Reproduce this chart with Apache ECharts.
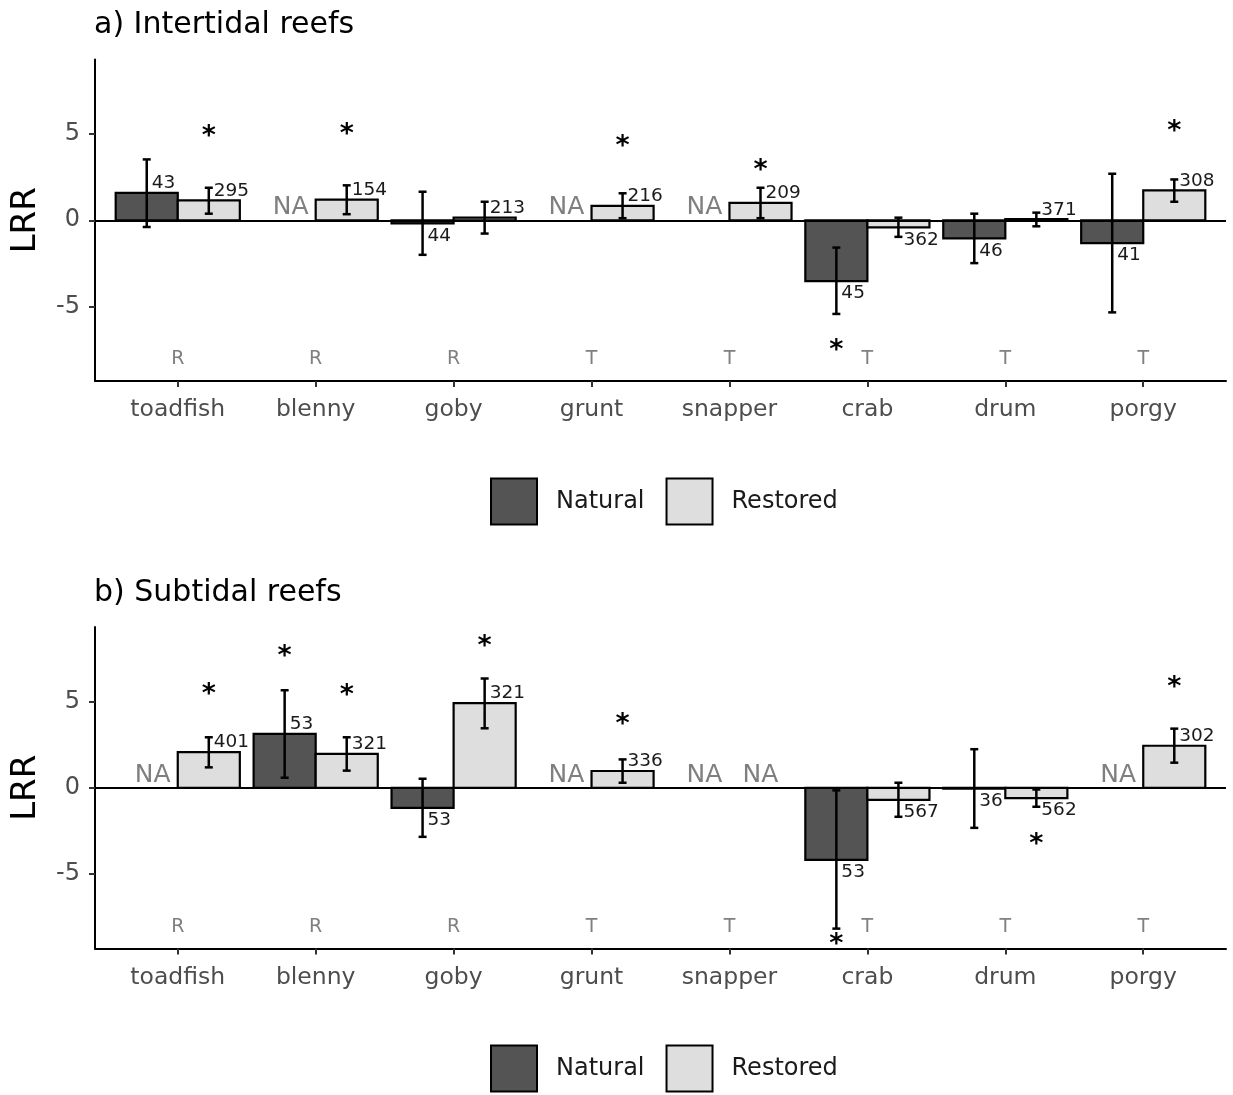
<!DOCTYPE html>
<html>
<head>
<meta charset="utf-8">
<script src="https://cdn.jsdelivr.net/npm/echarts@6/dist/echarts.min.js"></script>
<style>
html,body{margin:0;padding:0;background:#fff;}
#chart{width:1233px;height:1095px;}
</style>
</head>
<body>
<div id="chart"></div>
<script>
// ---------- data ----------
const categories = ['toadfish','blenny','goby','grunt','snapper','crab','drum','porgy'];
const habitatType = ['R','R','R','T','T','T','T','T'];
const yTicks = [-5, 0, 5];
const panelTitles = ['a) Intertidal reefs', 'b) Subtidal reefs'];
const groups = ['Natural', 'Restored'];

// a) Intertidal reefs
const intNat   = [1.58, null, -0.18, null, null, -3.52, -1.05, -1.32];
const intNatLo = [-0.39, null, -2.00, null, null, -5.42, -2.48, -5.33];
const intNatHi = [3.52, null, 1.65, null, null, -1.58, 0.38, 2.69];
const intNatN  = [43, null, 44, null, null, 45, 46, 41];
const intRes   = [1.15, 1.19, 0.15, 0.83, 1.01, -0.41, 0.06, 1.73];
const intResLo = [0.38, 0.35, -0.77, 0.12, 0.12, -0.96, -0.35, 1.07];
const intResHi = [1.88, 2.02, 1.07, 1.56, 1.88, 0.15, 0.44, 2.36];
const intResN  = [295, 154, 213, 216, 209, 362, 371, 308];
// significance stars: [category index, group (0 natural, 1 restored), LRR position]
const intStars = [[0,1,5.03],[1,1,5.15],[3,1,4.47],[4,1,3.09],[5,0,-7.34],[7,1,5.34]];

// b) Subtidal reefs
const subNat   = [null, 3.12, -1.17, null, null, -4.17, -0.05, null];
const subNatLo = [null, 0.58, -2.84, null, null, -8.15, -2.32, null];
const subNatHi = [null, 5.64, 0.52, null, null, -0.15, 2.23, null];
const subNatN  = [null, 53, 53, null, null, 53, 36, null];
const subRes   = [2.06, 1.96, 4.90, 0.97, null, -0.70, -0.60, 2.43];
const subResLo = [1.18, 0.99, 3.44, 0.29, null, -1.68, -1.10, 1.45];
const subResHi = [2.92, 2.92, 6.32, 1.64, null, 0.29, -0.10, 3.42];
const subResN  = [401, 321, 321, 336, null, 567, 562, 302];
const subStars = [[0,1,5.58],[1,0,7.82],[1,1,5.52],[2,1,8.40],[3,1,3.89],[5,0,-8.89],[6,1,-3.06],[7,1,6.01]];

// ---------- styling ----------
const FONT = 'DejaVu Sans';
const FILL = ['#545454', '#dedede'];
const HALF = 0.225;           // half bar width (category units)
const GRIDS = [{top: 59.5, height: 321.5}, {top: 627, height: 321.5}];
const LEFT = 95, RIGHT = 7;

function xPos(i, g) { return i + 1 + (g === 0 ? -HALF : HALF); }

function buildPanel(p, nat, natLo, natHi, natN, res, resLo, resHi, resN, stars) {
  const series = [];
  const vals = [nat, res], los = [natLo, resLo], his = [natHi, resHi], ns = [natN, resN];
  // bars
  for (let g = 0; g < 2; g++) {
    const data = [];
    vals[g].forEach((v, i) => { if (v !== null) data.push([xPos(i, g), v]); });
    series.push({
      type: 'custom', name: groups[g], xAxisIndex: p, yAxisIndex: p, z: 2,
      itemStyle: {color: FILL[g], borderColor: '#000', borderWidth: 2},
      encode: {x: 0, y: 1}, data: data, silent: true,
      renderItem: (params, api) => {
        const x = api.value(0), v = api.value(1);
        const a = api.coord([x - HALF, v]);
        const b = api.coord([x + HALF, 0]);
        return {
          type: 'rect',
          shape: {x: Math.min(a[0], b[0]), y: Math.min(a[1], b[1]),
                  width: Math.abs(b[0] - a[0]), height: Math.abs(b[1] - a[1])},
          style: {fill: FILL[g], stroke: '#000', lineWidth: 2.2}
        };
      }
    });
  }
  // error bars
  const eb = [];
  for (let g = 0; g < 2; g++) {
    vals[g].forEach((v, i) => { if (v !== null) eb.push([xPos(i, g), los[g][i], his[g][i]]); });
  }
  series.push({
    type: 'custom', name: 'err' + p, xAxisIndex: p, yAxisIndex: p, z: 4, silent: true,
    encode: {x: 0, y: [1, 2]}, data: eb,
    renderItem: (params, api) => {
      const x = api.value(0);
      const t = api.coord([x, api.value(2)]);
      const b = api.coord([x, api.value(1)]);
      const st = {stroke: '#000', lineWidth: 2.5};
      return {type: 'group', children: [
        {type: 'line', shape: {x1: t[0], y1: t[1], x2: b[0], y2: b[1]}, style: st},
        {type: 'line', shape: {x1: t[0] - 4, y1: t[1], x2: t[0] + 4, y2: t[1]}, style: st},
        {type: 'line', shape: {x1: b[0] - 4, y1: b[1], x2: b[0] + 4, y2: b[1]}, style: st}
      ]};
    },
    markLine: {
      silent: true, symbol: ['none', 'none'], label: {show: false},
      lineStyle: {color: '#000', width: 2, type: 'solid'},
      data: [{yAxis: 0}]
    }
  });
  // sample-size labels
  const lab = [];
  for (let g = 0; g < 2; g++) {
    vals[g].forEach((v, i) => { if (v !== null) lab.push([xPos(i, g), v, ns[g][i]]); });
  }
  series.push({
    type: 'custom', name: 'n' + p, xAxisIndex: p, yAxisIndex: p, z: 5, silent: true,
    encode: {x: 0, y: 1}, data: lab,
    renderItem: (params, api) => {
      const v = api.value(1);
      const pt = api.coord([api.value(0), v]);
      return {type: 'text', x: pt[0] + 5, y: pt[1] + (v >= 0 ? 0 : 3),
        style: {text: String(api.value(2)), fontSize: 18.5, fontFamily: FONT, fill: '#1a1a1a',
                align: 'left', verticalAlign: v >= 0 ? 'bottom' : 'top'}};
    }
  });
  // NA labels
  const na = [];
  for (let g = 0; g < 2; g++) {
    vals[g].forEach((v, i) => { if (v === null) na.push([xPos(i, g), 0, g]); });
  }
  series.push({
    type: 'custom', name: 'na' + p, xAxisIndex: p, yAxisIndex: p, z: 5, silent: true,
    encode: {x: 0, y: 1}, data: na,
    renderItem: (params, api) => {
      const pt = api.coord([api.value(0), api.value(1)]);
      return {type: 'text', x: pt[0] + (api.value(2) === 0 ? 6 : 0), y: pt[1],
        style: {text: 'NA', fontSize: 25, fontFamily: FONT, fill: '#7f7f7f',
                align: 'center', verticalAlign: 'bottom'}};
    }
  });
  // stars
  series.push({
    type: 'custom', name: 'sig' + p, xAxisIndex: p, yAxisIndex: p, z: 5, silent: true,
    encode: {x: 0, y: 1}, data: stars.map(s => [xPos(s[0], s[1]), s[2]]),
    renderItem: (params, api) => {
      const pt = api.coord([api.value(0), api.value(1)]);
      return {type: 'text', x: pt[0], y: pt[1] + 4,
        style: {text: '*', fontSize: 27, fontWeight: 'bold', fontFamily: FONT, fill: '#000',
                align: 'center', verticalAlign: 'middle'}};
    }
  });
  // habitat type letters
  series.push({
    type: 'custom', name: 'hab' + p, xAxisIndex: p, yAxisIndex: p, z: 5, silent: true,
    encode: {x: 0, y: 1}, data: habitatType.map((h, i) => [i + 1, -8]),
    renderItem: (params, api) => {
      const pt = api.coord([api.value(0), api.value(1)]);
      return {type: 'text', x: pt[0], y: pt[1] + 1,
        style: {text: habitatType[params.dataIndex], fontSize: 19, fontFamily: FONT, fill: '#808080',
                align: 'center', verticalAlign: 'middle'}};
    }
  });
  return series;
}

const catTicks = categories.map((c, i) => i + 1);

function xAxis(p) {
  return {
    type: 'value', gridIndex: p, min: 0.4, max: 8.6,
    splitLine: {show: false},
    axisLine: {show: true, onZero: false, lineStyle: {color: '#000', width: 2}},
    axisTick: {show: true, customValues: catTicks, length: 6, lineStyle: {color: '#333', width: 2}},
    axisLabel: {show: true, customValues: catTicks, margin: 17, fontSize: 23.5, fontFamily: FONT, color: '#4d4d4d',
      formatter: v => categories[Math.round(v) - 1] || ''}
  };
}
function yAxis(p) {
  return {
    type: 'value', gridIndex: p, min: -9.3, max: 9.3,
    splitLine: {show: false},
    axisLine: {show: true, lineStyle: {color: '#000', width: 2}},
    axisTick: {show: true, customValues: yTicks, length: 6, lineStyle: {color: '#333', width: 2}},
    axisLabel: {show: true, customValues: yTicks, margin: 15, fontSize: 24, fontFamily: FONT, color: '#4d4d4d'},
    name: 'LRR', nameLocation: 'middle', nameGap: 52,
    nameTextStyle: {fontSize: 34, fontFamily: FONT, color: '#000'}
  };
}
function legend(p, top) {
  return {
    top: top, left: 490, padding: 0, itemWidth: 46, itemHeight: 46, itemGap: 21, icon: 'rect',
    selectedMode: false,
    textStyle: {fontSize: 24, fontFamily: FONT, color: '#1a1a1a', padding: [0, 0, 0, 14]},
    data: groups.map((g, i) => ({name: g, itemStyle: {color: FILL[i], borderColor: '#000', borderWidth: 2}}))
  };
}

const option = {
  animation: false,
  backgroundColor: '#fff',
  textStyle: {fontFamily: FONT},
  title: [
    {text: panelTitles[0], left: 94, top: 10, padding: 0, textStyle: {fontSize: 30, fontWeight: 'normal', fontFamily: FONT, color: '#000'}},
    {text: panelTitles[1], left: 94, top: 578, padding: 0, textStyle: {fontSize: 30, fontWeight: 'normal', fontFamily: FONT, color: '#000'}}
  ],
  legend: [legend(0, 477.5), legend(1, 1044.5)],
  grid: GRIDS.map(g => ({left: LEFT, right: RIGHT, top: g.top, height: g.height, containLabel: false, outerBoundsMode: 'none'})),
  xAxis: [xAxis(0), xAxis(1)],
  yAxis: [yAxis(0), yAxis(1)],
  series: [
    ...buildPanel(0, intNat, intNatLo, intNatHi, intNatN, intRes, intResLo, intResHi, intResN, intStars),
    ...buildPanel(1, subNat, subNatLo, subNatHi, subNatN, subRes, subResLo, subResHi, subResN, subStars)
  ]
};

const chart = echarts.init(document.getElementById('chart'), null, {renderer: 'canvas'});
chart.setOption(option);
</script>
</body>
</html>
